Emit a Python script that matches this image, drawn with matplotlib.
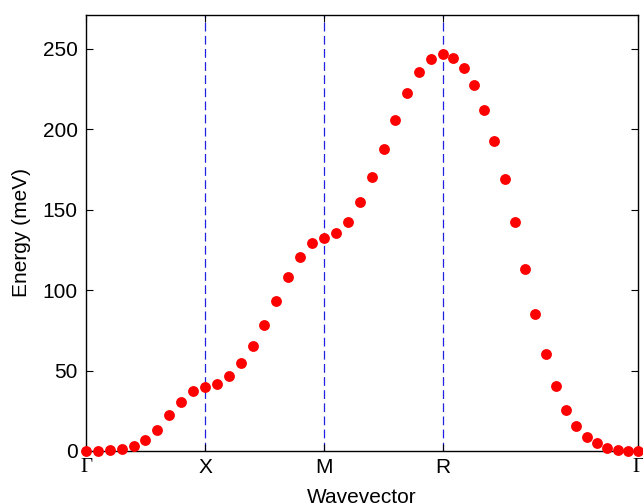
import matplotlib
matplotlib.use("Agg")
import matplotlib.pyplot as plt

# path coordinate along Gamma-X-M-R-Gamma (Gamma-X = 0.5)
kpath = [0.00, 0.05, 0.10, 0.15, 0.20, 0.25, 0.30, 0.35, 0.40, 0.45, 0.50,
         0.55, 0.60, 0.65, 0.70, 0.75, 0.80, 0.85, 0.90, 0.95, 1.00,
         1.05, 1.10, 1.15, 1.20, 1.25, 1.30, 1.35, 1.40, 1.45, 1.50,
         1.543, 1.586, 1.629, 1.672, 1.716, 1.759, 1.802, 1.845, 1.888, 1.931,
         1.974, 2.017, 2.060, 2.103, 2.147, 2.190, 2.233, 2.276, 2.319]

energy = [0.0, 0.0, 0.4, 1.2, 3.3, 6.8, 13.3, 22.2, 30.5, 37.3, 40.0,
          41.9, 46.4, 54.5, 65.3, 78.4, 93.3, 108.0, 120.8, 129.5, 132.7,
          135.4, 142.6, 154.7, 170.4, 188.0, 206.0, 222.4, 235.3, 243.6, 246.7,
          244.2, 238.0, 227.2, 212.1, 192.6, 169.2, 142.2, 113.4, 85.0, 60.1,
          40.4, 25.5, 15.5, 8.9, 4.8, 1.9, 0.6, 0.2, 0.0]

sym_pos = [0.0, 0.5, 1.0, 1.5, 2.319]
sym_labels = ["\u0393", "X", "M", "R", "\u0393"]

plt.rcParams["font.family"] = ["Liberation Sans", "DejaVu Sans"]

fig = plt.figure(figsize=(6.43, 5.04), dpi=100)
ax = fig.add_axes([0.1337, 0.1052, 0.8585, 0.865])

# high-symmetry points
for k in sym_pos[1:4]:
    ax.axvline(k, color="#2020e0", linestyle=(0, (7, 3.5)), linewidth=0.9, zorder=1)

ax.plot(kpath, energy, "o", color="red", markersize=7.8, markeredgewidth=0,
        clip_on=False, zorder=3)

ax.set_xlim(sym_pos[0], sym_pos[-1])
ax.set_ylim(0, 271)
ax.set_yticks([0, 50, 100, 150, 200, 250])
ax.set_xticks(sym_pos)
ax.set_xticklabels(sym_labels)
for lbl, name in zip(ax.get_xticklabels(), sym_labels):
    if name == "\u0393":
        lbl.set_fontfamily(["Liberation Serif", "DejaVu Serif"])

ax.tick_params(direction="in", length=5, width=0.8, labelsize=15,
               top=True, right=True, pad=6)
ax.tick_params(axis="x", pad=5)
for s in ax.spines.values():
    s.set_linewidth(1.0)

ax.set_xlabel("Wavevector", fontsize=15, labelpad=8)
ax.set_ylabel("Energy (meV)", fontsize=15, labelpad=8)

fig.savefig("out.png", dpi=100)
